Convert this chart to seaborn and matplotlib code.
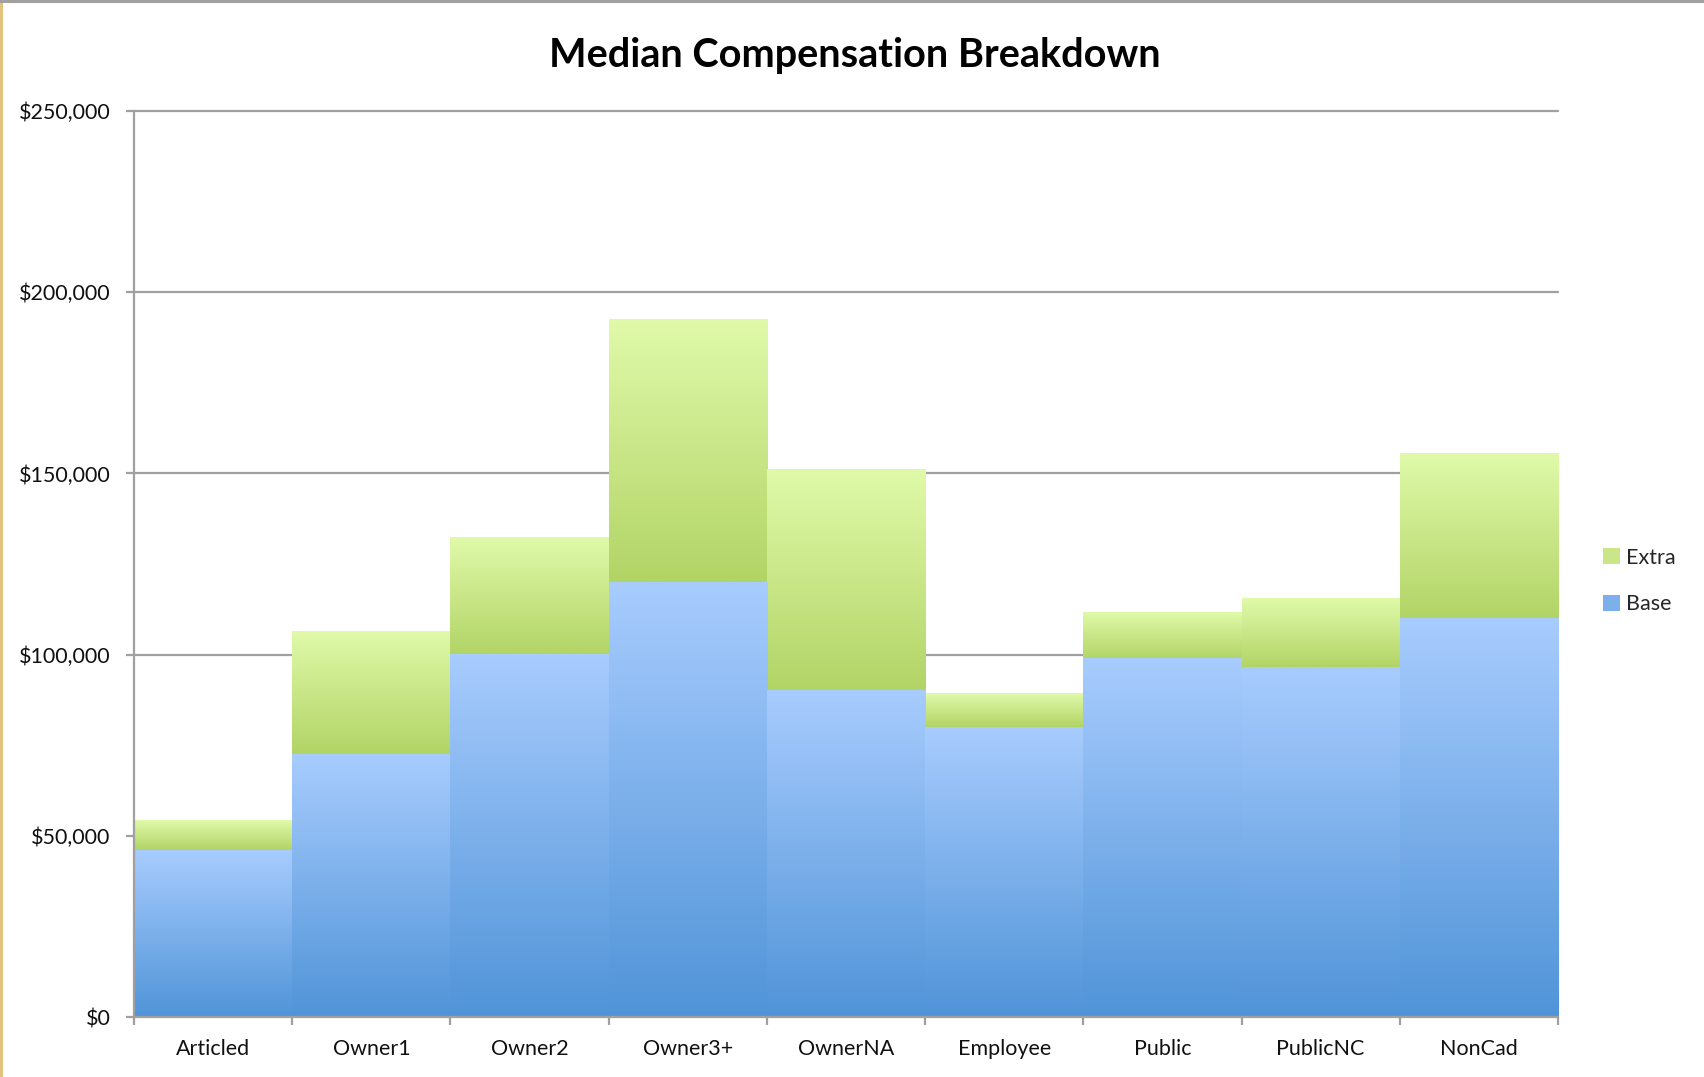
import numpy as np
import pandas as pd
import matplotlib
matplotlib.use("Agg")
import matplotlib.pyplot as plt
import seaborn as sns
from matplotlib.patches import Patch, Rectangle
from matplotlib.lines import Line2D
from matplotlib.ticker import FuncFormatter, FixedLocator

# ---- data ----
categories = ["Articled", "Owner1", "Owner2", "Owner3+", "OwnerNA",
              "Employee", "Public", "PublicNC", "NonCad"]
base_values = [46000, 72500, 100000, 120000, 90000, 80000, 98900, 96400, 110000]
extra_values = [8200, 33800, 32300, 72300, 61200, 9200, 12900, 19300, 45400]
y_ticks = [0, 50000, 100000, 150000, 200000, 250000]
title_text = "Median Compensation Breakdown"
series_names = ["Extra", "Base"]

df = pd.DataFrame({
    "category": categories,
    "Base": base_values,
    "Extra": extra_values,
})
df["Total"] = df["Base"] + df["Extra"]

# ---- style ----
sns.set_theme(style="white")
plt.rcParams["font.family"] = ["Lato", "DejaVu Sans"]

GRAY = "#A0A0A0"
blue_top, blue_bot = np.array([168, 204, 254]) / 255, np.array([80, 148, 216]) / 255
green_top, green_bot = np.array([224, 250, 170]) / 255, np.array([178, 212, 102]) / 255

fig = plt.figure(figsize=(17.04, 10.77), dpi=100)
ax = fig.add_axes([134 / 1704, 1 - 1017 / 1077, (1558 - 134) / 1704, (1017 - 111) / 1077])

n_before = len(ax.patches)
sns.barplot(data=df, x="category", y="Total", color="#C8E68A", width=1.0,
            ax=ax, saturation=1, zorder=2)
total_patches = ax.patches[n_before:]
n_before = len(ax.patches)
sns.barplot(data=df, x="category", y="Base", color="#8CB8F0", width=1.0,
            ax=ax, saturation=1, zorder=3)
base_patches = ax.patches[n_before:]


def gradient(x, w, y0, y1, top, bot, z):
    t = np.linspace(0, 1, 256)[:, None]
    img = (top[None, :] * (1 - t) + bot[None, :] * t)[:, None, :]
    ax.imshow(img, extent=[x, x + w, y0, y1], aspect="auto",
              origin="upper", zorder=z, interpolation="bilinear")


for p, b in zip(total_patches, base_patches):
    x, w = p.get_x(), p.get_width()
    # Extra segment: from top of base to top of total
    gradient(x, w, b.get_height(), p.get_height(), green_top, green_bot, 2)
    # Base segment
    gradient(b.get_x(), b.get_width(), b.get_y(), b.get_y() + b.get_height(),
             blue_top, blue_bot, 3)
    for q in (p, b):
        q.set_facecolor("none")
        q.set_edgecolor("none")

ax.set_xlim(-0.5, len(categories) - 0.5)
ax.set_ylim(0, 250000)

# grid
for yv in y_ticks[1:]:
    ax.axhline(yv, color=GRAY, lw=1.6, zorder=1, clip_on=False)

# spines
for s in ["top", "right"]:
    ax.spines[s].set_visible(False)
for s in ["left", "bottom"]:
    ax.spines[s].set_color(GRAY)
    ax.spines[s].set_linewidth(1.6)
    ax.spines[s].set_zorder(5)

# ticks
ax.set_yticks(y_ticks)
ax.yaxis.set_major_formatter(FuncFormatter(lambda v, _: f"${v:,.0f}"))
ax.tick_params(axis="y", length=6, width=1.6, color=GRAY, pad=11,
               labelsize=15.5, labelcolor="#111111", left=True)
ax.set_xticks(range(len(categories)))
ax.set_xticklabels(categories)
ax.tick_params(axis="x", which="major", length=0, pad=16, labelsize=15.5,
               labelcolor="#111111")
ax.xaxis.set_minor_locator(FixedLocator(np.arange(-0.5, len(categories), 1.0)))
ax.tick_params(axis="x", which="minor", length=6, width=1.6, color=GRAY,
               bottom=True)
ax.set_xlabel("")
ax.set_ylabel("")

# title
fig.text(855 / 1704, 1 - 67 / 1077, title_text, ha="center", va="baseline",
         fontsize=28.5, fontweight="bold", color="black")

# legend
handles = [Patch(facecolor=(green_top + green_bot) / 2, edgecolor="none"),
           Patch(facecolor=(blue_top + blue_bot) / 2, edgecolor="none")]
fig.legend(handles, series_names, loc="center left",
           bbox_to_anchor=(1584 / 1704, 1 - 581 / 1077), frameon=False,
           fontsize=15.5, handlelength=0.75, handleheight=0.75,
           handletextpad=0.3, labelspacing=1.25)

# figure border lines
fig.add_artist(Line2D([0, 1], [1 - 1 / 1077, 1 - 1 / 1077], color=GRAY,
                      lw=2.2, transform=fig.transFigure))
fig.add_artist(Rectangle((0, 0), 3 / 1704, 1, color="#E3C27F",
                         transform=fig.transFigure, lw=0))

fig.savefig("out.png", dpi=100, facecolor="white")
